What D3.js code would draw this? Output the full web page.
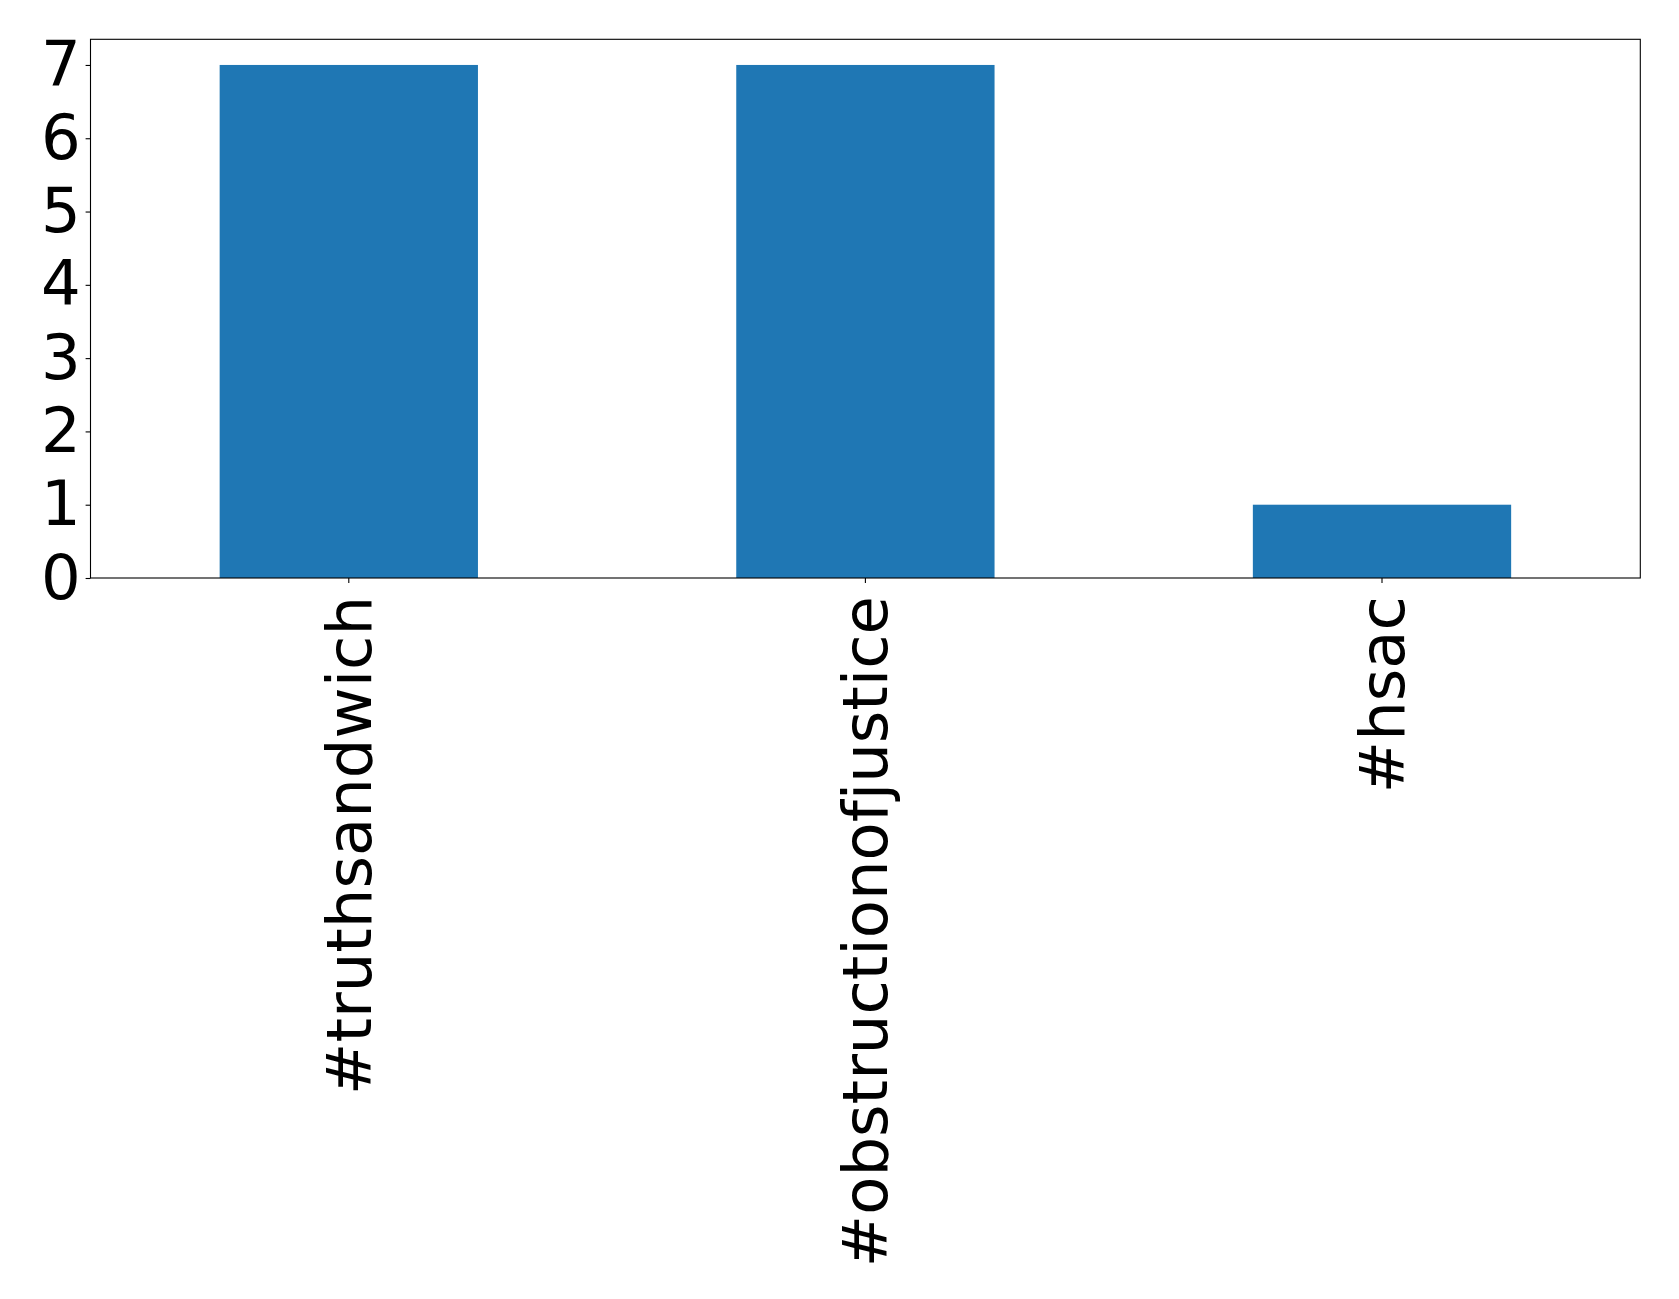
<!DOCTYPE html>
<html><head><meta charset="utf-8">
<script src="https://cdn.jsdelivr.net/npm/d3@7"></script>
<style>body{margin:0;background:#fff}svg{display:block}text{font-family:"DejaVu Sans",sans-serif}</style>
</head><body>
<script>
const categories = ["#truthsandwich", "#obstructionofjustice", "#hsac"];
const values = [7, 7, 1];
const yTicks = [0, 1, 2, 3, 4, 5, 6, 7];

const W = 1679, H = 1299;
const L = 90.5, R = 1640.3, T = 39.3, B = 578;
const svg = d3.select("body").append("svg").attr("width", W).attr("height", H);

const x = d3.scaleBand().domain(categories).range([L, R]).paddingInner(0.5).paddingOuter(0.25);
const y = d3.scaleLinear().domain([0, 7.35]).range([B, T]);

svg.selectAll("rect.bar").data(values).enter().append("rect")
  .attr("class", "bar")
  .attr("x", (d, i) => x(categories[i]))
  .attr("width", x.bandwidth())
  .attr("y", d => y(d))
  .attr("height", d => y(0) - y(d))
  .attr("fill", "#1f77b4");

const fs = 62.5;
const yAxis = svg.append("g").attr("transform", `translate(${L},0)`)
  .call(d3.axisLeft(y).tickValues(yTicks).tickFormat(d3.format("d")).tickSize(4.9).tickPadding(4.9));
yAxis.select(".domain").remove();
yAxis.selectAll("text").attr("font-size", fs).attr("font-family", "DejaVu Sans").attr("fill", "#000");
yAxis.selectAll("line").attr("stroke", "#000").attr("stroke-width", 1.1);

const xAxis = svg.append("g").attr("transform", `translate(0,${B})`)
  .call(d3.axisBottom(x).tickSize(4.9).tickPadding(4.9));
xAxis.select(".domain").remove();
xAxis.selectAll("line").attr("stroke", "#000").attr("stroke-width", 1.1);
xAxis.selectAll("text")
  .attr("font-size", fs).attr("font-family", "DejaVu Sans").attr("fill", "#000")
  .attr("transform", "rotate(-90)")
  .attr("x", -18).attr("y", 0).attr("dy", "0.35em")
  .attr("text-anchor", "end");

svg.append("rect").attr("x", L).attr("y", T).attr("width", R - L).attr("height", B - T)
  .attr("fill", "none").attr("stroke", "#000").attr("stroke-width", 1.1);
</script>
</body></html>
